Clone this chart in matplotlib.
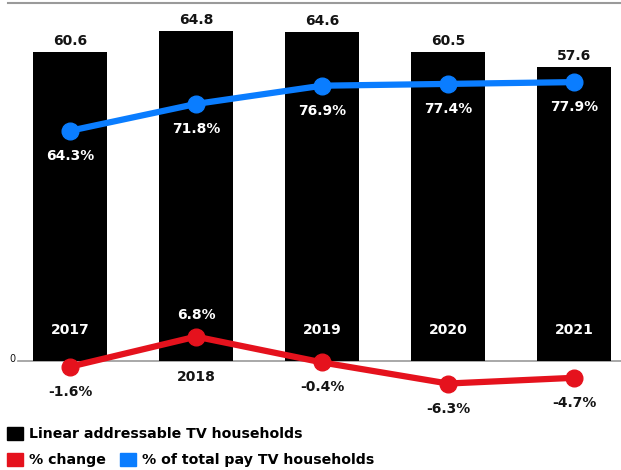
import matplotlib.pyplot as plt
from matplotlib.patches import Patch
import numpy as np

years = ["2017", "2018", "2019", "2020", "2021"]
households = [60.6, 64.8, 64.6, 60.5, 57.6]
pct_change = [-1.6, 6.8, -0.4, -6.3, -4.7]
pct_pay_tv = [64.3, 71.8, 76.9, 77.4, 77.9]

c = {"bar": "#000000", "red": "#e5121d", "blue": "#0a7dff", "grid": "#9a9a9a", "text": "#141414"}
plt.rcParams["font.family"] = ["DejaVu Sans"]
plt.rcParams["font.weight"] = "bold"

W, H = 621, 470
fig = plt.figure(figsize=(W / 100, H / 100), dpi=100)
# axes box in pixels: left 8, right 621, top 3, bottom 400
ax = fig.add_axes([8 / W, (H - 400) / H, 613 / W, 397 / H])
x = np.arange(len(years))

ax.bar(x, households, width=0.59, color=c["bar"], zorder=2)
ax.set_xlim(-0.492, 4.373)
ax.set_ylim(-7.65, 70.2)
ax.axhline(0, xmin=10 / 613, xmax=1, color=c["grid"], lw=1.2, zorder=1)

fs = 10
for i, v in enumerate(households):
    ax.annotate(f"{v:.1f}", (i, v), xytext=(0, 11), textcoords="offset pixels",
                ha="center", va="center", fontsize=fs, color=c["text"])

for i, yr in enumerate(years):
    if pct_change[i] > 3:
        ax.annotate(yr, (i, 0), xytext=(0, -16), textcoords="offset pixels",
                    ha="center", va="center", fontsize=fs, color=c["text"], zorder=5)
    else:
        ax.annotate(yr, (i, 0), xytext=(0, 31), textcoords="offset pixels",
                    ha="center", va="center", fontsize=fs, color="white", zorder=5)

ax.annotate("0", (-0.492, 0), xytext=(4, 2), textcoords="offset pixels",
            ha="center", va="center", fontsize=7, fontweight="normal", color=c["text"])

ax2 = ax.twinx()
ax2.set_ylim(-10.9, 100)
ax2.plot(x, pct_pay_tv, color=c["blue"], lw=4.5, marker="o", ms=12, zorder=4)
ax2.plot(x, pct_change, color=c["red"], lw=4.5, marker="o", ms=12, zorder=4)

for i, v in enumerate(pct_pay_tv):
    ax2.annotate(f"{v:.1f}%", (i, v), xytext=(0, -25), textcoords="offset pixels",
                 ha="center", va="center", fontsize=fs, color="white")

for i, v in enumerate(pct_change):
    if v > 0:
        ax2.annotate(f"{v:.1f}%", (i, v), xytext=(0, 22), textcoords="offset pixels",
                     ha="center", va="center", fontsize=fs, color="white")
    else:
        ax2.annotate(f"{v:.1f}%", (i, v), xytext=(0, -25), textcoords="offset pixels",
                     ha="center", va="center", fontsize=fs, color=c["text"])

for a in (ax, ax2):
    a.set_xticks([])
    a.set_yticks([])
    for s in ("left", "right", "bottom"):
        a.spines[s].set_visible(False)
    a.spines["top"].set_color(c["grid"])
    a.spines["top"].set_linewidth(1.5)
ax2.spines["top"].set_visible(False)
ax2.set_zorder(ax.get_zorder() + 1)
ax2.patch.set_visible(False)

lkw = dict(frameon=False, fontsize=10.2, handlelength=1.1, handleheight=1.1,
           handletextpad=0.45, borderpad=0, borderaxespad=0, columnspacing=1.0)
fig.legend(handles=[Patch(color=c["bar"], label="Linear addressable TV households")],
           loc="center left", bbox_to_anchor=(7 / W, 1 - 434 / H), **lkw)
fig.legend(handles=[Patch(color=c["red"], label="% change"),
                    Patch(color=c["blue"], label="% of total pay TV households")],
           loc="center left", bbox_to_anchor=(7 / W, 1 - 460 / H), ncol=2, **lkw)

plt.savefig("out.png", dpi=100, facecolor="white")
plt.close()
